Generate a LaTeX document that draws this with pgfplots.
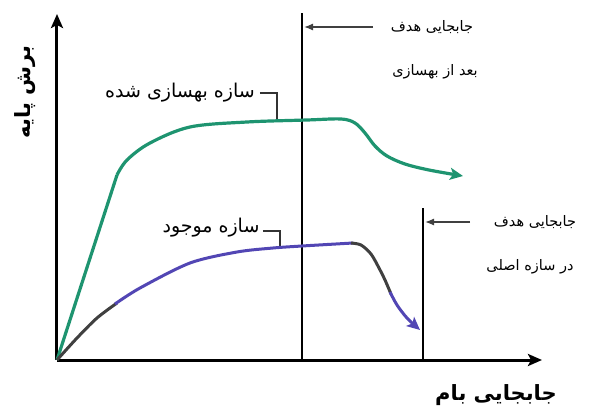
\documentclass[border=0pt]{standalone}
\usepackage{fontspec}
\usepackage{pgfplots}
\pgfplotsset{compat=1.18}
\usetikzlibrary{arrows.meta}
\TeXXeTstate=1
\newfontfamily\arabicfont[Script=Arabic]{DejaVu Sans}
\definecolor{cgreen}{RGB}{30,148,112}
\definecolor{cpurple}{RGB}{82,70,180}
\definecolor{cgray}{RGB}{64,64,64}
\begin{document}
\begin{tikzpicture}
\begin{axis}[
  scale only axis, width=485pt, height=346pt,
  xmin=0, xmax=485, ymin=0, ymax=346,
  axis lines=left, clip=false,
  xtick=\empty, ytick=\empty,
  axis line style={line width=3pt, -{Stealth[length=14pt,width=12pt,inset=3pt]}},
]
% bounding box helpers
\path (axis cs:-57,-48) coordinate (bbA);
\path (axis cs:549,360) coordinate (bbB);
% target displacement lines
\addplot[black, line width=2.8pt] coordinates {(245,0) (245,347)};
\addplot[black, line width=2.8pt] coordinates {(366,0) (366,152)};
% annotation arrows
\addplot[black!75, line width=1.3pt, -{Latex[length=9pt,width=7pt]}] coordinates {(316,333) (247,333)};
\addplot[black!75, line width=1.3pt, -{Latex[length=9pt,width=7pt]}] coordinates {(413,138) (368,138)};
% brackets
\addplot[black!80, line width=1.2pt] coordinates {(203,267) (220,267) (220,238)};
\addplot[black!80, line width=1.2pt] coordinates {(206,129) (223,129) (223,114)};
% retrofitted structure (green)
\addplot[cgreen, line width=3.2pt] coordinates {(0,0) (60,185)};
\addplot[cgreen, line width=3.2pt, smooth, tension=0.55, -{Stealth[length=13pt,width=12pt,inset=3pt]}] coordinates {
 (60,185) (70,200) (93,217) (133,233) (190,238) (250,240) (284,241) (298,237) (308,227) (318,214) (330,204) (348,196) (372,190) (406,184)};
% existing structure
\addplot[cgray, line width=3pt, smooth, tension=0.5] coordinates {(0,0) (20,22) (40,42) (60,57)};
\addplot[cpurple, line width=3pt, smooth, tension=0.5] coordinates {(58,56) (83,72) (133,97) (180,108) (216,112) (245,114) (296,117)};
\addplot[cgray, line width=3pt, smooth, tension=0.5] coordinates {(294,117) (304,115) (314,106) (322,92) (328,80) (334,66)};
\addplot[cpurple, line width=3pt, smooth, tension=0.5, -{Stealth[length=13pt,width=12pt,inset=3pt]}] coordinates {(333,68) (340,55) (350,42) (363,30)};
% texts
\node[font=\fontsize{14.5}{17}\selectfont] at (axis cs:375,333) {\arabicfont\beginR جابجایی هدف\endR};
\node[font=\fontsize{14.5}{17}\selectfont] at (axis cs:378,288) {\arabicfont\beginR بعد از بهسازی\endR};
\node[font=\fontsize{14.5}{17}\selectfont] at (axis cs:478,138) {\arabicfont\beginR جابجایی هدف\endR};
\node[font=\fontsize{14.5}{17}\selectfont] at (axis cs:473,93) {\arabicfont\beginR در سازه اصلی\endR};
\node[font=\fontsize{19}{22}\selectfont] at (axis cs:123,267) {\arabicfont\beginR سازه بهسازی شده\endR};
\node[font=\fontsize{19}{22}\selectfont] at (axis cs:154,132) {\arabicfont\beginR سازه موجود\endR};
\node[font=\fontsize{21}{24}\selectfont\bfseries] at (axis cs:439,-35) {\arabicfont\bfseries\beginR جابجایی بام\endR};
\node[font=\fontsize{21}{24}\selectfont\bfseries, rotate=90] at (axis cs:-32,268) {\arabicfont\bfseries\beginR برش پایه\endR};
\end{axis}
\pgfresetboundingbox
\path[use as bounding box] (bbA) rectangle (bbB);
\end{tikzpicture}
\end{document}
